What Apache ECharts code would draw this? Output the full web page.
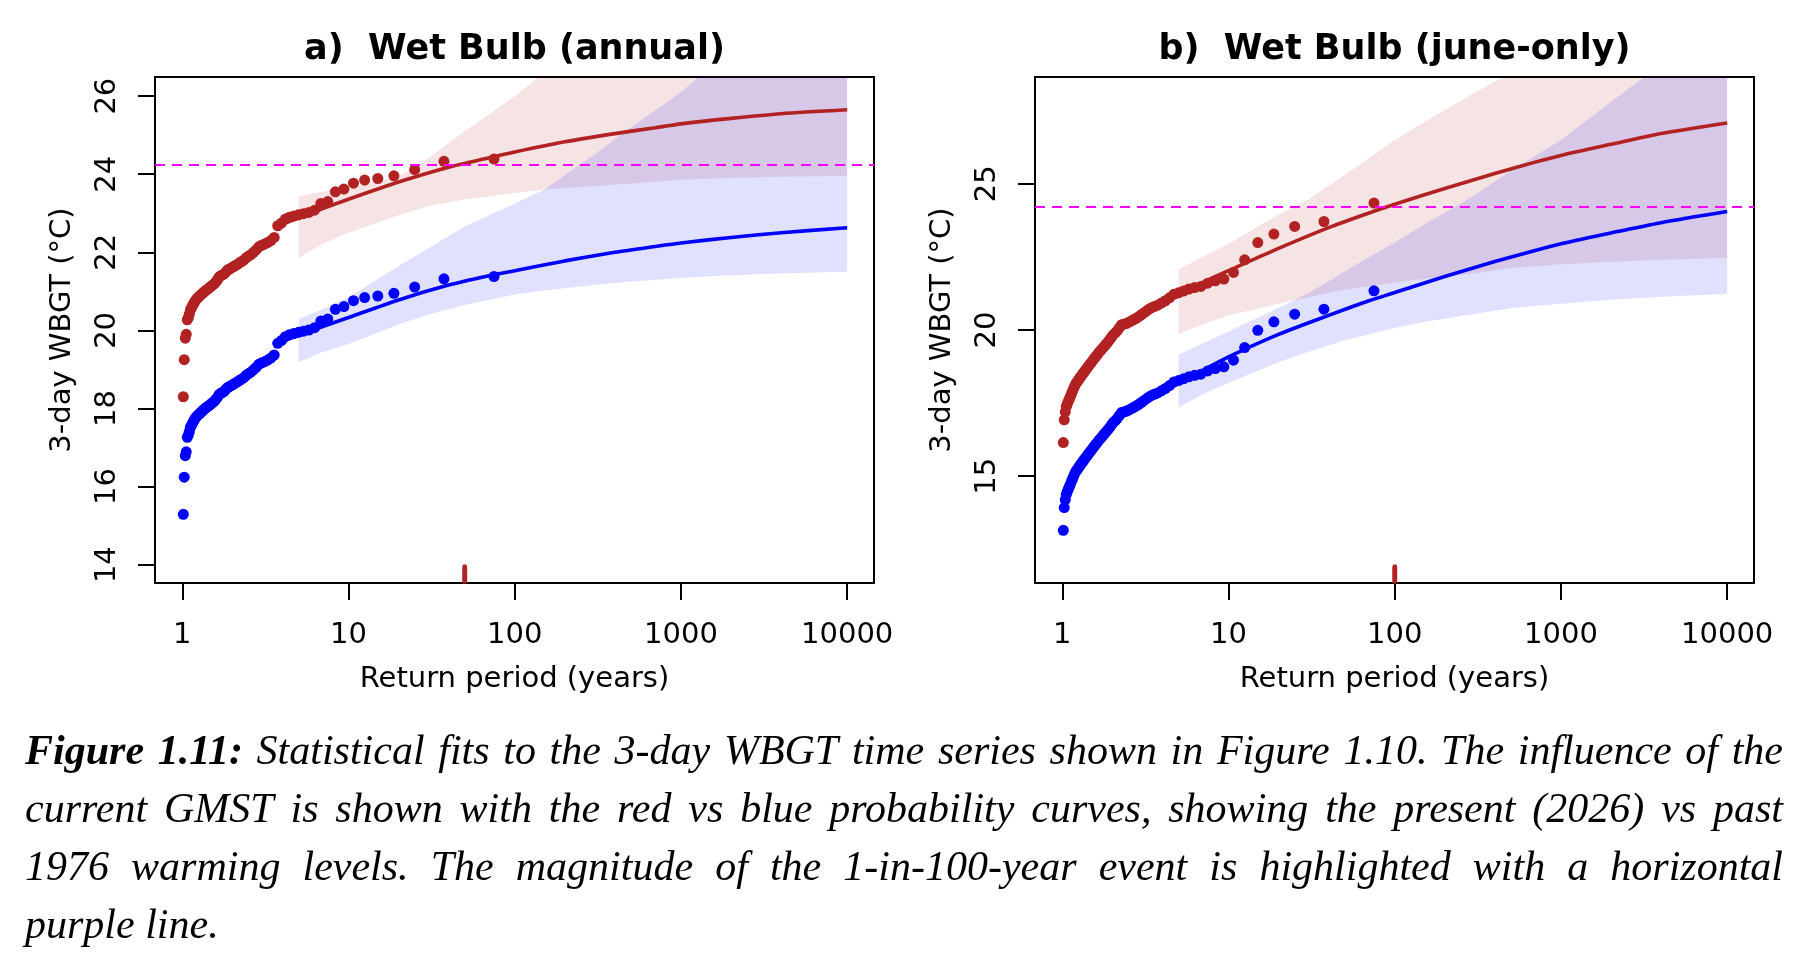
<!DOCTYPE html>
<html>
<head>
<meta charset="utf-8">
<title>Figure 1.11</title>
<script src="https://cdn.jsdelivr.net/npm/echarts@6.0.0/dist/echarts.min.js"></script>
<style>
  html, body { margin: 0; padding: 0; background: #fff; }
  #chart { width: 1800px; height: 970px; }
</style>
</head>
<body>
<div id="chart"></div>
<script>
// return periods of the ranked observations (75/rank)
const returnPeriods = [
  75, 37.5, 25, 18.75, 15, 12.5, 10.71, 9.375, 8.333, 7.5,
  6.818, 6.25, 5.769, 5.357, 5, 4.688, 4.412, 4.167, 3.947, 3.75,
  3.571, 3.409, 3.261, 3.125, 3, 2.885, 2.778, 2.679, 2.586, 2.5,
  2.419, 2.344, 2.273, 2.206, 2.143, 2.083, 2.027, 1.974, 1.923, 1.875,
  1.829, 1.786, 1.744, 1.705, 1.667, 1.630, 1.596, 1.563, 1.531, 1.5,
  1.471, 1.442, 1.415, 1.389, 1.364, 1.339, 1.316, 1.293, 1.271, 1.25,
  1.230, 1.210, 1.190, 1.172, 1.154, 1.136, 1.119, 1.103, 1.087, 1.071,
  1.056, 1.042, 1.027, 1.014
];

const annualPresent = [
  24.39, 24.33, 24.12, 23.96, 23.89, 23.85, 23.77, 23.62, 23.55, 23.30,
  23.25, 23.08, 23.02, 22.99, 22.96, 22.93, 22.90, 22.85, 22.75, 22.68,
  22.38, 22.30, 22.25, 22.21, 22.18, 22.14, 22.06, 22.00, 21.94, 21.90,
  21.86, 21.80, 21.76, 21.73, 21.69, 21.66, 21.63, 21.60, 21.57, 21.55,
  21.50, 21.45, 21.42, 21.40, 21.37, 21.30, 21.25, 21.20, 21.17, 21.14,
  21.11, 21.08, 21.05, 21.03, 21.00, 20.97, 20.94, 20.91, 20.88, 20.85,
  20.82, 20.79, 20.74, 20.69, 20.64, 20.58, 20.53, 20.42, 20.33, 20.27,
  19.90, 19.80, 19.25, 18.30
];
const annualPast = [
  21.38, 21.32, 21.11, 20.95, 20.88, 20.84, 20.76, 20.61, 20.54, 20.29,
  20.24, 20.07, 20.01, 19.98, 19.95, 19.92, 19.89, 19.84, 19.74, 19.67,
  19.37, 19.29, 19.24, 19.20, 19.17, 19.13, 19.05, 18.99, 18.93, 18.89,
  18.85, 18.79, 18.75, 18.72, 18.68, 18.65, 18.62, 18.59, 18.56, 18.54,
  18.49, 18.44, 18.41, 18.39, 18.36, 18.29, 18.24, 18.19, 18.16, 18.13,
  18.10, 18.07, 18.04, 18.02, 17.99, 17.96, 17.93, 17.90, 17.87, 17.84,
  17.81, 17.78, 17.73, 17.68, 17.63, 17.57, 17.52, 17.41, 17.32, 17.26,
  16.89, 16.79, 16.24, 15.29
];
const junePresent = [
  24.34, 23.71, 23.54, 23.28, 22.99, 22.40, 21.97, 21.74, 21.68, 21.60,
  21.49, 21.45, 21.40, 21.33, 21.27, 21.22, 21.10, 21.00, 20.92, 20.85,
  20.80, 20.75, 20.68, 20.60, 20.53, 20.46, 20.40, 20.35, 20.30, 20.26,
  20.22, 20.20, 20.18, 20.08, 19.98, 19.90, 19.84, 19.75, 19.66, 19.58,
  19.51, 19.44, 19.37, 19.30, 19.24, 19.17, 19.10, 19.04, 18.97, 18.90,
  18.84, 18.78, 18.71, 18.65, 18.59, 18.53, 18.47, 18.41, 18.35, 18.29,
  18.23, 18.18, 18.10, 18.01, 17.92, 17.83, 17.73, 17.65, 17.56, 17.47,
  17.38, 17.20, 16.93, 16.15
];
const junePast = [
  21.34, 20.71, 20.54, 20.28, 19.99, 19.40, 18.97, 18.74, 18.68, 18.60,
  18.49, 18.45, 18.40, 18.33, 18.27, 18.22, 18.10, 18.00, 17.92, 17.85,
  17.80, 17.75, 17.68, 17.60, 17.53, 17.46, 17.40, 17.35, 17.30, 17.26,
  17.22, 17.20, 17.18, 17.08, 16.98, 16.90, 16.84, 16.75, 16.66, 16.58,
  16.51, 16.44, 16.37, 16.30, 16.24, 16.17, 16.10, 16.04, 15.97, 15.90,
  15.84, 15.78, 15.71, 15.65, 15.59, 15.53, 15.47, 15.41, 15.35, 15.29,
  15.23, 15.18, 15.10, 15.01, 14.92, 14.83, 14.73, 14.65, 14.56, 14.47,
  14.38, 14.20, 13.93, 13.15
];

// fitted return level curves
const fitPeriods = [4, 7, 10, 20, 40, 70, 100, 200, 400, 700, 1000, 2000, 4000, 10000];
const annualFitPresent = [22.72, 23.12, 23.36, 23.80, 24.18, 24.42, 24.57, 24.83, 25.04, 25.19, 25.29, 25.43, 25.55, 25.65];
const annualFitPast = [19.72, 20.10, 20.33, 20.78, 21.16, 21.40, 21.53, 21.78, 22.00, 22.15, 22.24, 22.38, 22.50, 22.63];
const juneFitPresent = [20.98, 21.63, 22.03, 22.79, 23.50, 24.00, 24.30, 24.84, 25.35, 25.74, 25.97, 26.35, 26.72, 27.08];
const juneFitPast = [17.90, 18.62, 19.08, 19.85, 20.50, 21.00, 21.28, 21.83, 22.34, 22.72, 22.95, 23.32, 23.67, 24.05];

// confidence bands
const bandPeriods = [5, 7, 10, 20, 30, 50, 100, 150, 300, 500, 1000, 2000, 5000, 10000];
const annualPresentLow = [21.85, 22.22, 22.50, 22.95, 23.18, 23.35, 23.52, 23.60, 23.70, 23.76, 23.86, 23.91, 23.94, 23.96];
const annualPresentHigh = [23.43, 23.55, 23.65, 23.95, 24.40, 25.10, 26.00, 26.60, 27.60, 28.30, 29.20, 30.00, 31.00, 32.00];
const annualPastLow = [19.18, 19.45, 19.65, 20.15, 20.40, 20.65, 20.92, 21.02, 21.16, 21.25, 21.34, 21.41, 21.47, 21.50];
const annualPastHigh = [20.29, 20.55, 20.85, 21.65, 22.10, 22.66, 23.25, 23.60, 24.50, 25.20, 26.10, 27.20, 28.60, 29.80];
const junePresentLow = [19.86, 20.20, 20.50, 20.90, 21.12, 21.38, 21.62, 21.75, 21.93, 22.12, 22.25, 22.33, 22.42, 22.46];
const junePresentHigh = [22.07, 22.50, 22.95, 23.95, 24.45, 25.30, 26.50, 27.10, 28.10, 28.80, 29.80, 30.70, 32.00, 33.00];
const junePastLow = [17.35, 17.80, 18.20, 18.90, 19.25, 19.65, 20.07, 20.27, 20.55, 20.74, 20.90, 21.03, 21.16, 21.23];
const junePastHigh = [19.15, 19.55, 19.95, 20.75, 21.25, 22.00, 23.00, 23.60, 24.60, 25.45, 26.50, 27.80, 29.50, 31.00];

const eventLevel = [24.23, 24.23];
const eventPeriod = [50, 100];

const panelTitles = ['a)  Wet Bulb (annual)', 'b)  Wet Bulb (june-only)'];
const xTicks = [1, 10, 100, 1000, 10000];
const yTicks = [[14, 16, 18, 20, 22, 24, 26], [15, 20, 25]];
const xName = 'Return period (years)';
const yName = '3-day WBGT (\u00B0C)';

const captionLines = [
  'Figure 1.11: Statistical fits to the 3-day WBGT time series shown in Figure 1.10. The influence of the',
  'current GMST is shown with the red vs blue probability curves, showing the present (2026) vs past',
  '1976 warming levels. The magnitude of the 1-in-100-year event is highlighted with a horizontal',
  'purple line.'
];

const RED = '#B22222';
const BLUE = '#0000FF';
const MAGENTA = '#FF00FF';
const AXIS_FONT = 'DejaVu Sans';

const panels = [
  {
    left: 155, yMin: 13.53, yMax: 26.49,
    present: annualPresent, past: annualPast,
    fitPresent: annualFitPresent, fitPast: annualFitPast,
    presentLow: annualPresentLow, presentHigh: annualPresentHigh,
    pastLow: annualPastLow, pastHigh: annualPastHigh
  },
  {
    left: 1035, yMin: 11.35, yMax: 28.65,
    present: junePresent, past: junePast,
    fitPresent: juneFitPresent, fitPast: juneFitPast,
    presentLow: junePresentLow, presentHigh: junePresentHigh,
    pastLow: junePastLow, pastHigh: junePastHigh
  }
];
const GRID_TOP = 77, GRID_W = 719, GRID_H = 506;

function pairs(xs, ys) {
  return xs.map((x, i) => [x, ys[i]]);
}

function band(idx, low, high, color) {
  return {
    type: 'custom', xAxisIndex: idx, yAxisIndex: idx, z: 1, silent: true, clip: true,
    data: [[bandPeriods[0], low[0]]],
    renderItem: function (params, api) {
      const pts = [];
      for (let i = 0; i < bandPeriods.length; i++) pts.push(api.coord([bandPeriods[i], high[i]]));
      for (let i = bandPeriods.length - 1; i >= 0; i--) pts.push(api.coord([bandPeriods[i], low[i]]));
      return { type: 'polygon', shape: { points: pts }, style: { fill: color } };
    }
  };
}

const textStyle = { fontFamily: AXIS_FONT, fontSize: 29, color: '#000' };

const grids = [], xAxes = [], yAxes = [], series = [];
panels.forEach((p, i) => {
  grids.push({
    left: p.left, top: GRID_TOP, width: GRID_W, height: GRID_H,
    show: true, borderColor: '#000', borderWidth: 2, backgroundColor: 'transparent'
  });
  xAxes.push({
    type: 'log', logBase: 10, gridIndex: i, min: 0.685, max: 14500,
    axisLine: { show: false }, splitLine: { show: false },
    axisTick: { show: true, length: 17, lineStyle: { color: '#000', width: 2 }, customValues: xTicks },
    axisLabel: Object.assign({ customValues: xTicks, margin: 38, formatter: v => String(v) }, textStyle),
    name: xName, nameLocation: 'middle', nameGap: 82, nameTextStyle: textStyle
  });
  yAxes.push({
    type: 'value', gridIndex: i, min: p.yMin, max: p.yMax,
    axisLine: { show: false }, splitLine: { show: false },
    axisTick: { show: true, length: 17, lineStyle: { color: '#000', width: 2 }, customValues: yTicks[i] },
    axisLabel: Object.assign({ customValues: yTicks[i], rotate: 90, margin: 33 }, textStyle),
    name: yName, nameLocation: 'middle', nameGap: 78, nameRotate: 90, nameTextStyle: textStyle
  });

  series.push(band(i, p.presentLow, p.presentHigh, 'rgba(178,34,34,0.12)'));
  series.push(band(i, p.pastLow, p.pastHigh, 'rgba(0,0,255,0.12)'));

  [[p.present, RED], [p.past, BLUE]].forEach(([vals, color]) => {
    series.push({
      type: 'scatter', xAxisIndex: i, yAxisIndex: i, z: 2, silent: true,
      symbolSize: 11, itemStyle: { color: color, opacity: 1 },
      data: pairs(returnPeriods, vals)
    });
  });

  [[p.fitPresent, RED], [p.fitPast, BLUE]].forEach(([vals, color], k) => {
    const s = {
      type: 'line', xAxisIndex: i, yAxisIndex: i, z: 3, silent: true,
      smooth: 0.25, showSymbol: false, symbol: 'none',
      lineStyle: { color: color, width: 3.6 },
      data: pairs(fitPeriods, vals)
    };
    if (k === 0) {
      s.markLine = {
        silent: true, symbol: 'none', label: { show: false }, z: 4,
        lineStyle: { color: MAGENTA, width: 2, type: [10, 7], opacity: 1 },
        data: [{ yAxis: eventLevel[i] }]
      };
    }
    series.push(s);
  });

  // rug mark at the event's return period
  series.push({
    type: 'scatter', xAxisIndex: i, yAxisIndex: i, z: 5, silent: true, clip: false,
    symbol: 'roundRect', symbolSize: [5, 19], symbolOffset: [0, -9],
    itemStyle: { color: RED, opacity: 1 },
    data: [[eventPeriod[i], p.yMin]]
  });
});

// titles and justified caption as graphic text
const graphics = [];
panels.forEach((p, i) => {
  graphics.push({
    type: 'text', x: p.left + GRID_W / 2, y: 50,
    style: {
      text: panelTitles[i], font: 'bold 35px "DejaVu Sans"', fill: '#000',
      align: 'center', verticalAlign: 'middle', textAlign: 'center', textVerticalAlign: 'middle'
    }
  });
});

const CAP_SIZE = 42;
const capFont = 'italic ' + CAP_SIZE + 'px "Liberation Serif", "Times New Roman", serif';
const capBold = 'italic bold ' + CAP_SIZE + 'px "Liberation Serif", "Times New Roman", serif';
const measure = document.createElement('canvas').getContext('2d');
function textWidth(t, f) { measure.font = f; return measure.measureText(t).width; }

const CAP_LEFT = 25, CAP_RIGHT = 1783;
captionLines.forEach((line, li) => {
  const words = line.split(' ');
  const fonts = words.map((w, wi) => (li === 0 && wi < 2) ? capBold : capFont);
  const widths = words.map((w, wi) => textWidth(w, fonts[wi]));
  const total = widths.reduce((a, b) => a + b, 0);
  const last = li === captionLines.length - 1;
  const gap = last ? textWidth(' ', capFont) : (CAP_RIGHT - CAP_LEFT - total) / (words.length - 1);
  let x = CAP_LEFT;
  const y = 753 + li * 58;
  words.forEach((w, wi) => {
    graphics.push({
      type: 'text', x: x, y: y,
      style: {
        text: w, font: fonts[wi], fill: '#000',
        align: 'left', verticalAlign: 'middle', textAlign: 'left', textVerticalAlign: 'middle'
      }
    });
    x += widths[wi] + gap;
  });
});

const chart = echarts.init(document.getElementById('chart'), null, { renderer: 'canvas' });
chart.setOption({
  animation: false,
  backgroundColor: '#fff',
  grid: grids,
  xAxis: xAxes,
  yAxis: yAxes,
  series: series,
  graphic: { elements: graphics }
});
</script>
</body>
</html>
